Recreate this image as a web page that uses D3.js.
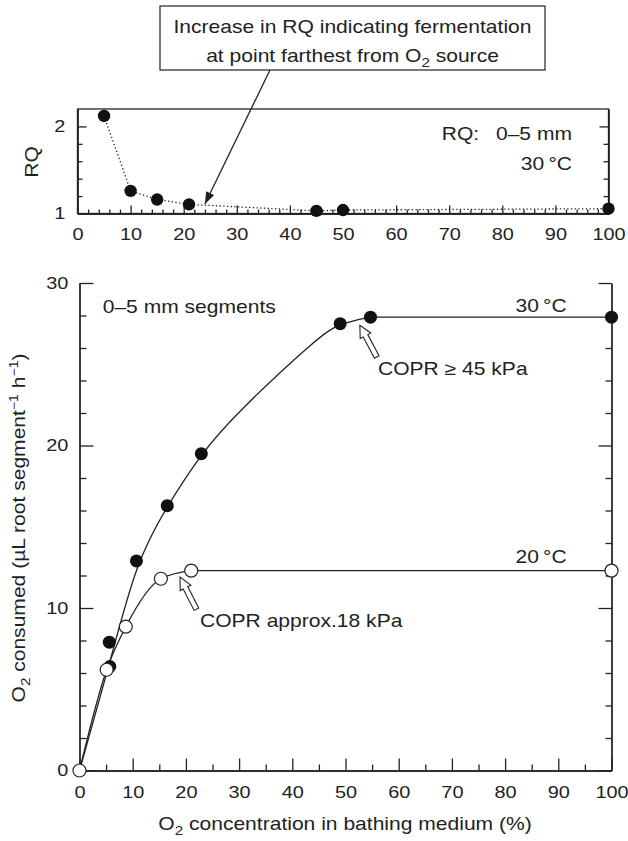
<!DOCTYPE html>
<html>
<head>
<meta charset="utf-8">
<script src="https://cdn.jsdelivr.net/npm/d3@7"></script>
<style>
    body { margin: 0; background: #fff; }
    svg text { font-family: "Liberation Sans", Arial, Helvetica, sans-serif; fill: #222; }
</style>
</head>
<body>
<div id="chart"></div>
<script>
    // RQ panel (0-5 mm, 30 C)
    var rqO2 = [5, 10, 15, 21, 45, 50, 100];
    var rqValues = [2.12, 1.26, 1.16, 1.105, 1.03, 1.04, 1.055];
    var rqTicks = [1, 2];

    // O2 uptake, filled circles = 30 C, open circles = 20 C
    var o2At30 = [5.7, 5.6, 10.7, 16.5, 22.9, 49, 54.7, 100];
    var uptake30 = [6.4, 7.9, 12.9, 16.3, 19.5, 27.5, 27.9, 27.9];
    var o2At20 = [0, 5.1, 8.7, 15.3, 21, 100];
    var uptake20 = [0, 6.2, 8.85, 11.8, 12.3, 12.3];

    // fitted lines as drawn in the figure (rising part, then the plateau)
    var fit30X = [0, 5.7, 10.7, 16.5, 22.9, 28.9, 45.2, 49, 54.7];
    var fit30Y = [0, 6.6, 12.9, 16.3, 19.5, 21.8, 26.8, 27.5, 27.9];
    var fit20X = [0, 5.1, 8.7, 15.3, 21];
    var fit20Y = [0, 6.2, 8.85, 11.8, 12.3];

    var xTicks = [0, 10, 20, 30, 40, 50, 60, 70, 80, 90, 100];
    var yTicks = [0, 10, 20, 30];

    var ink = "#222";
    var SX = 1.17; // the original lettering is a bit wide

    var svg = d3.select("#chart").append("svg")
            .attr("width", 628)
            .attr("height", 841);

    function zip(xs, ys) {
        return xs.map(function (d, i) { return [d, ys[i]]; });
    }

    // text that is stretched sideways like the original type
    function label(x, y, anchor, size, rotate) {
        return svg.append("text")
                .attr("transform", "translate(" + x + "," + y + ")" +
                        (rotate ? " rotate(" + rotate + ")" : "") + " scale(" + SX + ",1)")
                .attr("text-anchor", anchor)
                .style("font-size", size + "px");
    }

    function styleAxis(g, size) {
        g.attr("font-family", null).attr("font-size", null);
        g.selectAll("path, line").attr("stroke", ink).attr("stroke-width", 1.3);
        g.selectAll("text").style("font-size", size + "px").attr("fill", ink)
                .attr("transform", "scale(" + SX + ",1)");
    }

    // ---------- top panel: RQ ----------
    var xr = d3.scaleLinear().domain([0, 100]).range([77.5, 608.5]);
    var yr = d3.scaleLinear().domain([1, 2.2]).range([213.5, 109]);

    svg.append("rect")
            .attr("x", xr(0)).attr("y", yr(2.2))
            .attr("width", xr(100) - xr(0)).attr("height", yr(1) - yr(2.2))
            .attr("fill", "none").attr("stroke", ink).attr("stroke-width", 1.3);

    var rqMinorX = d3.range(2, 100, 2).filter(function (d) { return d % 10 !== 0; });
    svg.append("g").attr("transform", "translate(0," + yr(1) + ")")
            .call(d3.axisBottom(xr).tickValues(rqMinorX).tickSize(-4).tickSizeOuter(0).tickFormat(""))
            .call(styleAxis, 17);
    svg.append("g").attr("transform", "translate(0," + yr(1) + ")")
            .call(d3.axisBottom(xr).tickValues(xTicks).tickSize(-8).tickSizeOuter(0).tickPadding(14))
            .call(styleAxis, 17);

    var rqMinorY = [1.2, 1.4, 1.6, 1.8];
    svg.append("g").attr("transform", "translate(" + xr(0) + ",0)")
            .call(d3.axisLeft(yr).tickValues(rqMinorY).tickSize(-5).tickSizeOuter(0).tickFormat(""))
            .call(styleAxis, 17);
    svg.append("g").attr("transform", "translate(" + xr(0) + ",0)")
            .call(d3.axisLeft(yr).tickValues(rqTicks).tickSize(-9).tickSizeOuter(0)
                    .tickPadding(10.5).tickFormat(d3.format("d")))
            .call(styleAxis, 17);
    svg.append("g").attr("transform", "translate(" + xr(100) + ",0)")
            .call(d3.axisRight(yr).tickValues(rqMinorY).tickSize(-5).tickSizeOuter(0).tickFormat(""))
            .call(styleAxis, 17);
    svg.append("g").attr("transform", "translate(" + xr(100) + ",0)")
            .call(d3.axisRight(yr).tickValues([2]).tickSize(-9).tickSizeOuter(0).tickFormat(""))
            .call(styleAxis, 17);

    var rqData = zip(rqO2, rqValues);
    svg.append("path")
            .datum(rqData)
            .attr("fill", "none")
            .attr("stroke", ink)
            .attr("stroke-width", 1.3)
            .attr("stroke-dasharray", "1.3,2.4")
            .attr("d", d3.line()
                    .x(function (d) { return xr(d[0]); })
                    .y(function (d) { return yr(d[1]); }));

    svg.selectAll(".rq-dot")
            .data(rqData)
            .enter().append("circle")
            .attr("class", "rq-dot")
            .attr("cx", function (d) { return xr(d[0]); })
            .attr("cy", function (d) { return yr(d[1]); })
            .attr("r", 6.2)
            .attr("fill", "#111");

    label(38, 162, "middle", 18, -90).text("RQ");
    label(441.7, 140, "start", 18).text("RQ:");
    label(572, 140, "end", 18).text("0\u20135 mm");
    label(572, 170, "end", 18).text("30\u2009\u00b0C");

    // callout box and arrow
    var defs = svg.append("defs");
    defs.append("marker")
            .attr("id", "head")
            .attr("viewBox", "0 -5 12 10")
            .attr("refX", 12).attr("refY", 0)
            .attr("markerWidth", 12).attr("markerHeight", 10)
            .attr("markerUnits", "userSpaceOnUse")
            .attr("orient", "auto")
            .append("path")
            .attr("d", "M0,-4.5L12,0L0,4.5Z")
            .attr("fill", ink);

    svg.append("rect")
            .attr("x", 160).attr("y", 6)
            .attr("width", 385).attr("height", 64)
            .attr("fill", "#fff").attr("stroke", ink).attr("stroke-width", 1.2);

    label(352.5, 33.3, "middle", 18).text("Increase in RQ indicating fermentation");
    var l2 = label(352.5, 61.7, "middle", 18);
    l2.append("tspan").text("at point farthest from O");
    l2.append("tspan").attr("dy", 5).style("font-size", "13px").text("2");
    l2.append("tspan").attr("dy", -5).text(" source");

    svg.append("line")
            .attr("x1", 270).attr("y1", 70)
            .attr("x2", xr(24)).attr("y2", yr(1.11))
            .attr("stroke", ink).attr("stroke-width", 1.3)
            .attr("marker-end", "url(#head)");

    // ---------- main panel: O2 consumption ----------
    var x = d3.scaleLinear().domain([0, 100]).range([79.5, 611.5]);
    var y = d3.scaleLinear().domain([0, 30]).range([770.5, 283]);

    var minorX = d3.range(5, 100, 10);
    var minorY = d3.range(2, 30, 2).filter(function (d) { return d % 10 !== 0; });

    svg.append("g").attr("transform", "translate(0," + y(0) + ")")
            .call(d3.axisBottom(x).tickValues(minorX).tickSize(-6).tickSizeOuter(0).tickFormat(""))
            .call(styleAxis, 17);
    svg.append("g").attr("transform", "translate(0," + y(0) + ")")
            .call(d3.axisBottom(x).tickValues(xTicks).tickSize(-12).tickSizeOuter(0).tickPadding(15))
            .call(styleAxis, 17);

    svg.append("g").attr("transform", "translate(" + x(0) + ",0)")
            .call(d3.axisLeft(y).tickValues(minorY).tickSize(-7).tickSizeOuter(0).tickFormat(""))
            .call(styleAxis, 17);
    svg.append("g").attr("transform", "translate(" + x(0) + ",0)")
            .call(d3.axisLeft(y).tickValues(yTicks).tickSize(-14).tickSizeOuter(0).tickPadding(9.6))
            .call(styleAxis, 17);

    svg.append("g").attr("transform", "translate(" + x(100) + ",0)")
            .call(d3.axisRight(y).tickValues(minorY).tickSize(-6).tickSizeOuter(0).tickFormat(""))
            .call(styleAxis, 17);
    svg.append("g").attr("transform", "translate(" + x(100) + ",0)")
            .call(d3.axisRight(y).tickValues(yTicks).tickSize(-13).tickSizeOuter(0).tickFormat(""))
            .call(styleAxis, 17);

    function fitPath(xs, ys, curveType) {
        var pts = zip(xs, ys);
        var last = pts[pts.length - 1];
        var rise = d3.line()
                .curve(curveType)
                .x(function (d) { return x(d[0]); })
                .y(function (d) { return y(d[1]); });
        // plateau runs flat to 100 %
        return rise(pts) + "L" + x(100) + "," + y(last[1]);
    }

    svg.append("path")
            .attr("fill", "none").attr("stroke", ink).attr("stroke-width", 1.3)
            .attr("d", fitPath(fit30X, fit30Y, d3.curveBasis));
    svg.append("path")
            .attr("fill", "none").attr("stroke", ink).attr("stroke-width", 1.3)
            .attr("d", fitPath(fit20X, fit20Y, d3.curveMonotoneX));

    svg.selectAll(".dot30")
            .data(zip(o2At30, uptake30))
            .enter().append("circle")
            .attr("class", "dot30")
            .attr("cx", function (d) { return x(d[0]); })
            .attr("cy", function (d) { return y(d[1]); })
            .attr("r", 6.5)
            .attr("fill", "#111");

    svg.selectAll(".dot20")
            .data(zip(o2At20, uptake20))
            .enter().append("circle")
            .attr("class", "dot20")
            .attr("cx", function (d) { return x(d[0]); })
            .attr("cy", function (d) { return y(d[1]); })
            .attr("r", 6.5)
            .attr("fill", "#fff")
            .attr("stroke", ink)
            .attr("stroke-width", 1.2);

    // hollow block arrows pointing at the COPR points
    function hollowArrow(tipX, tipY, angle) {
        svg.append("path")
                .attr("d", "M0,0L-12,-6L-12,-2.6L-36,-2.6L-36,2.6L-12,2.6L-12,6Z")
                .attr("transform", "translate(" + tipX + "," + tipY + ") rotate(" + angle + ")")
                .attr("fill", "#fff")
                .attr("stroke", ink)
                .attr("stroke-width", 1.1);
    }
    hollowArrow(x(52.7), y(27.4), -118);
    hollowArrow(x(18.9), y(11.9), -117);

    label(102.7, 313.3, "start", 18).text("0\u20135 mm segments");
    label(566.7, 311.7, "end", 18).text("30\u2009\u00b0C");
    label(378, 375, "start", 18).text("COPR \u2265 45 kPa");
    label(566.7, 563.3, "end", 18).text("20\u2009\u00b0C");
    label(200, 627.3, "start", 18).text("COPR approx.18 kPa");

    // axis titles
    var xt = label(345, 830, "middle", 18);
    xt.append("tspan").text("O");
    xt.append("tspan").attr("dy", 5).style("font-size", "13px").text("2");
    xt.append("tspan").attr("dy", -5).text(" concentration in bathing medium (%)");

    var yt = label(25, 528, "middle", 18, -90);
    yt.append("tspan").text("O");
    yt.append("tspan").attr("dy", 5).style("font-size", "13px").text("2");
    yt.append("tspan").attr("dy", -5).text(" consumed (\u00b5L root segment");
    yt.append("tspan").attr("dy", -7).style("font-size", "12px").text("\u22121");
    yt.append("tspan").attr("dy", 7).text(" h");
    yt.append("tspan").attr("dy", -7).style("font-size", "12px").text("\u22121");
    yt.append("tspan").attr("dy", 7).text(")");
</script>
</body>
</html>
